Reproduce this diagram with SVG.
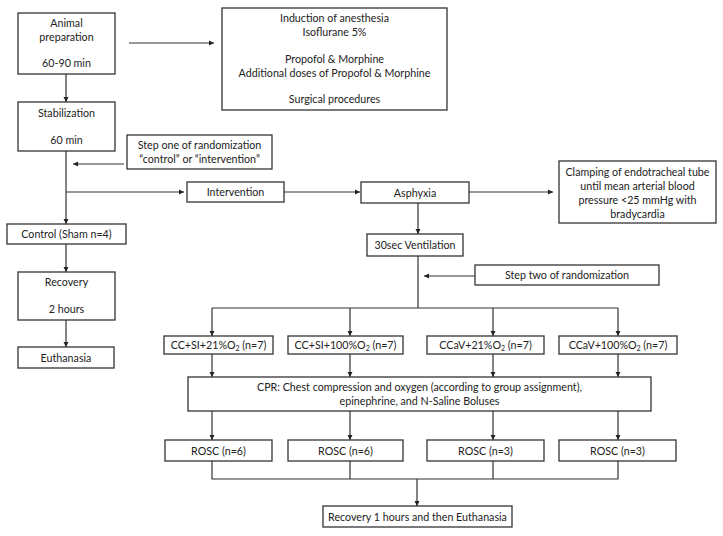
<svg xmlns="http://www.w3.org/2000/svg" width="723" height="536" viewBox="0 0 723 536">
<style>
rect{fill:#fff;stroke:#333;stroke-width:1.3}
text{font-family:Lato,"Open Sans","DejaVu Sans",sans-serif;font-size:10.7px;fill:#222;text-anchor:middle}
.c line,.c path{stroke:#333;stroke-width:1.2;fill:none}
.s{font-size:7px}
</style>
<defs>
<marker id="a" markerWidth="6" markerHeight="6" refX="5" refY="3" orient="auto" markerUnits="userSpaceOnUse">
<path d="M0,0.5 L5,3 L0,5.5 Z" fill="#222"/>
</marker>
</defs>
<rect x="0" y="0" width="723" height="536" style="fill:#fff;stroke:none"/>
<g class="c" id="connectors">
<line x1="66" y1="74" x2="66" y2="102" marker-end="url(#a)"/>
<line x1="129" y1="43" x2="214" y2="43" marker-end="url(#a)"/>
<line x1="66" y1="151" x2="66" y2="224" marker-end="url(#a)"/>
<line x1="124" y1="164" x2="73" y2="164" marker-end="url(#a)"/>
<line x1="66" y1="192" x2="184" y2="192" marker-end="url(#a)"/>
<line x1="284" y1="192" x2="360" y2="192" marker-end="url(#a)"/>
<line x1="469" y1="192" x2="553" y2="192" marker-end="url(#a)"/>
<line x1="418" y1="203" x2="418" y2="234" marker-end="url(#a)"/>
<line x1="475" y1="276" x2="424" y2="276" marker-end="url(#a)"/>
<line x1="418" y1="256" x2="418" y2="308"/>
<line x1="212" y1="308" x2="618" y2="308"/>
<line x1="212" y1="308" x2="212" y2="336" marker-end="url(#a)"/>
<line x1="350" y1="308" x2="350" y2="336" marker-end="url(#a)"/>
<line x1="493" y1="308" x2="493" y2="336" marker-end="url(#a)"/>
<line x1="618" y1="308" x2="618" y2="336" marker-end="url(#a)"/>
<line x1="212" y1="354" x2="212" y2="377" marker-end="url(#a)"/>
<line x1="350" y1="354" x2="350" y2="377" marker-end="url(#a)"/>
<line x1="493" y1="354" x2="493" y2="377" marker-end="url(#a)"/>
<line x1="618" y1="354" x2="618" y2="377" marker-end="url(#a)"/>
<line x1="212" y1="411" x2="212" y2="440" marker-end="url(#a)"/>
<line x1="350" y1="411" x2="350" y2="440" marker-end="url(#a)"/>
<line x1="493" y1="411" x2="493" y2="440" marker-end="url(#a)"/>
<line x1="618" y1="411" x2="618" y2="440" marker-end="url(#a)"/>
<path d="M212,461 V479 H618 V461 M350,461 V479 M493,461 V479"/>
<line x1="417" y1="479" x2="417" y2="506" marker-end="url(#a)"/>
<line x1="66" y1="244" x2="66" y2="272" marker-end="url(#a)"/>
<line x1="66" y1="320" x2="66" y2="347" marker-end="url(#a)"/>
</g>
<g id="animal-prep"><rect x="18" y="13" width="97" height="61"/><text x="66.5" y="27">Animal</text><text x="66.5" y="41">preparation</text><text x="66.5" y="67">60-90 min</text></g>
<g id="induction"><rect x="222" y="8" width="225" height="102"/><text x="334.5" y="22">Induction of anesthesia</text><text x="334.5" y="36">Isoflurane 5%</text><text x="334.5" y="63">Propofol &amp; Morphine</text><text x="334.5" y="77">Additional doses of Propofol &amp; Morphine</text><text x="334.5" y="103">Surgical procedures</text></g>
<g id="stabilization"><rect x="18" y="102" width="97" height="49"/><text x="66.5" y="117">Stabilization</text><text x="66.5" y="144">60 min</text></g>
<g id="step-one"><rect x="127" y="135" width="145" height="34"/><text x="199.5" y="149">Step one of randomization</text><text x="199.5" y="163">“control” or “intervention”</text></g>
<g id="intervention"><rect x="187" y="182" width="97" height="20"/><text x="235.5" y="196">Intervention</text></g>
<g id="asphyxia"><rect x="361" y="182" width="108" height="21"/><text x="415" y="196.5">Asphyxia</text></g>
<g id="clamping"><rect x="559" y="161" width="157" height="62"/><text x="637.5" y="176">Clamping of endotracheal tube</text><text x="637.5" y="190">until mean arterial blood</text><text x="637.5" y="204">pressure &lt;25 mmHg with</text><text x="637.5" y="218">bradycardia</text></g>
<g id="ventilation"><rect x="367" y="234" width="96" height="22"/><text x="415" y="249">30sec Ventilation</text></g>
<g id="step-two"><rect x="475" y="265" width="184" height="20"/><text x="567" y="279">Step two of randomization</text></g>
<g id="control"><rect x="7" y="224" width="119" height="20"/><text x="66.5" y="238">Control (Sham n=4)</text></g>
<g id="recovery"><rect x="18" y="272" width="97" height="48"/><text x="66.5" y="286">Recovery</text><text x="66.5" y="313">2 hours</text></g>
<g id="euthanasia"><rect x="18" y="347" width="96" height="21"/><text x="66" y="361.5">Euthanasia</text></g>
<g id="g1"><rect x="164" y="336" width="109" height="18"/><text x="218.5" y="349">CC+SI+21%O<tspan class="s" dy="2">2</tspan><tspan dy="-2"> (n=7)</tspan></text></g>
<g id="g2"><rect x="288" y="336" width="115" height="18"/><text x="345.5" y="349">CC+SI+100%O<tspan class="s" dy="2">2</tspan><tspan dy="-2"> (n=7)</tspan></text></g>
<g id="g3"><rect x="427" y="336" width="117" height="18"/><text x="485.5" y="349">CCaV+21%O<tspan class="s" dy="2">2</tspan><tspan dy="-2"> (n=7)</tspan></text></g>
<g id="g4"><rect x="559" y="336" width="118" height="18"/><text x="618" y="349">CCaV+100%O<tspan class="s" dy="2">2</tspan><tspan dy="-2"> (n=7)</tspan></text></g>
<g id="cpr"><rect x="188" y="377" width="463" height="34"/><text x="419.5" y="391">CPR: Chest compression and oxygen (according to group assignment),</text><text x="419.5" y="405">epinephrine, and N-Saline Boluses</text></g>
<g id="rosc1"><rect x="165" y="440" width="107" height="21"/><text x="218.5" y="454.5">ROSC (n=6)</text></g>
<g id="rosc2"><rect x="288" y="440" width="115" height="21"/><text x="345.5" y="454.5">ROSC (n=6)</text></g>
<g id="rosc3"><rect x="427" y="440" width="117" height="21"/><text x="485.5" y="454.5">ROSC (n=3)</text></g>
<g id="rosc4"><rect x="559" y="440" width="117" height="21"/><text x="617.5" y="454.5">ROSC (n=3)</text></g>
<g id="final"><rect x="323" y="506" width="189" height="21"/><text x="417.5" y="520.5">Recovery 1 hours and then Euthanasia</text></g>
</svg>
